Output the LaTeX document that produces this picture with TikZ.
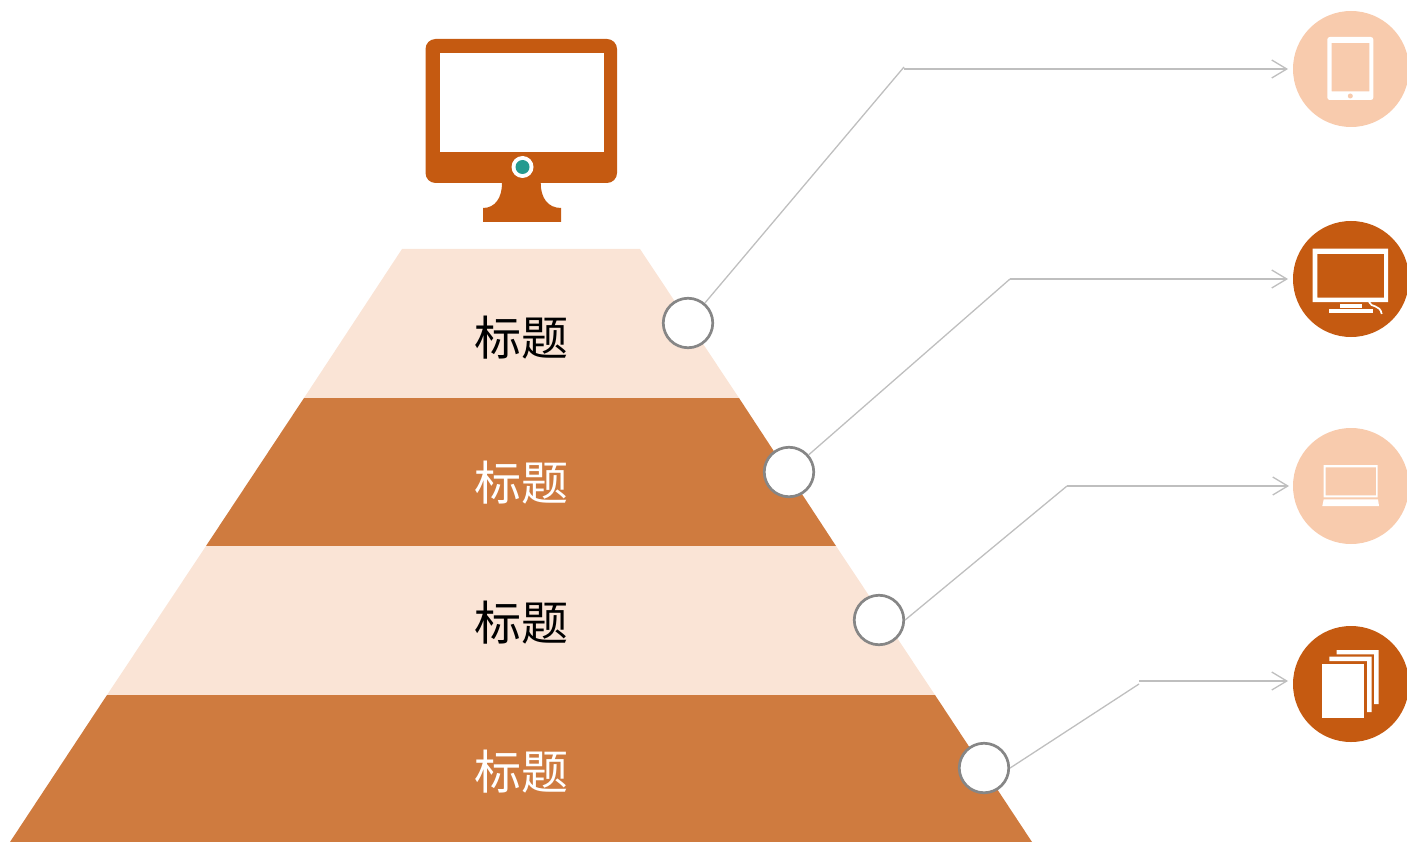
\documentclass[tikz,border=0pt]{standalone}
\usepackage{fontspec}
\newfontfamily\cjk{Noto Sans CJK SC}
\usetikzlibrary{arrows.meta}
\definecolor{burnt}{HTML}{C55A11}
\definecolor{tierdark}{HTML}{CF7B3F}
\definecolor{tierlight}{HTML}{FAE4D6}
\definecolor{iconlight}{HTML}{F8CBAD}
\definecolor{teal}{HTML}{259A8F}
\tikzset{
	tierlabel/.style = {font=\cjk\fontsize{47}{47}\selectfont, inner sep=0pt},
	ring/.style = {shape=circle, draw=gray!95, fill=white, line width=2.7pt, minimum size=49.5pt, inner sep=0pt},
	iconbadge/.style = {shape=circle, minimum size=116pt, inner sep=0pt},
	leader/.style = {draw=black!25, line width=1.3pt},
	pointer/.style = {leader, -{Straight Barb[length=15pt,width=18pt,line width=1.3pt]}}
}
\begin{document}
\begin{tikzpicture}[x=1pt, y=-1pt]
		\useasboundingbox (0,0) rectangle (1407,842);
		% pyramid
		\fill[tierlight] (402,249) -- (640,249) -- (739,398) -- (304,398) -- cycle;
		\fill[tierdark] (304,398) -- (739,398) -- (836,546) -- (206,546) -- cycle;
		\fill[tierlight] (206,546) -- (836,546) -- (935,695) -- (107,695) -- cycle;
		\fill[tierdark] (107,695) -- (935,695) -- (1032,842) -- (10,842) -- cycle;
		\node[tierlabel, text=black] (tier1) at (521,338) {标题};
		\node[tierlabel, text=white] (tier2) at (521,483) {标题};
		\node[tierlabel, text=black] (tier3) at (521,623) {标题};
		\node[tierlabel, text=white] (tier4) at (521,772) {标题};
		% monitor on top
		\fill[burnt, rounded corners=10pt] (425.5,39) rectangle (617,183);
		\fill[burnt] (502,180) -- (540.7,180) -- (540.7,183) .. controls (540.7,198) and (548,208) .. (561,208)
			-- (561,222) -- (483,222) -- (483,208) .. controls (495,208) and (502,198) .. (502,183) -- cycle;
		\fill[white] (440,53) rectangle (604,152);
		\node[shape=circle, fill=white, minimum size=22pt, inner sep=0pt] (lens) at (522.5,167) {};
		\node[shape=circle, fill=teal, minimum size=14pt, inner sep=0pt] (lensdot) at (522.5,167) {};
		% circles on the slope
		\node[ring] (ring1) at (688,323) {};
		\node[ring] (ring2) at (789,472) {};
		\node[ring] (ring3) at (879,620) {};
		\node[ring] (ring4) at (984,768) {};
		% badges
		\node[iconbadge, fill=iconlight] (tablet) at (1351,69) {};
		\node[iconbadge, fill=burnt] (screen) at (1351,279) {};
		\node[iconbadge, fill=iconlight] (laptop) at (1351,486) {};
		\node[iconbadge, fill=burnt] (pages) at (1351,684) {};
		% leaders
		\coordinate (bend1) at (904,67);
		\coordinate (start1) at (904,69);
		\coordinate (tip1) at (1288,69);
		\coordinate (bend2) at (1010,279);
		\coordinate (tip2) at (1288,279);
		\coordinate (bend3) at (1067,486);
		\coordinate (tip3) at (1289,486);
		\coordinate (bend4) at (1139,684);
		\coordinate (start4) at (1139,681);
		\coordinate (tip4) at (1288,681);
		\draw[leader] (ring1) -- (bend1);
		\draw[pointer] (start1) -- (tip1);
		\draw[leader] (ring2) -- (bend2);
		\draw[pointer] (bend2) -- (tip2);
		\draw[leader] (ring3.east) -- (bend3);
		\draw[pointer] (bend3) -- (tip3);
		\draw[leader] (ring4.east) -- (bend4);
		\draw[pointer] (start4) -- (tip4);
		% tablet glyph
		\fill[white, even odd rule, rounded corners=2.5pt] (1327.3,37) rectangle (1373.3,100)
			[sharp corners] (1331.7,43) rectangle (1369.3,91.3);
		\fill[iconlight] (1350.3,96) circle (2.5);
		% screen glyph
		\fill[white, even odd rule] (1312.7,248.7) rectangle (1388,302) (1317.3,254) rectangle (1384,297.7);
		\fill[white] (1340,304) rectangle (1362,308);
		\fill[white] (1329,309) rectangle (1373,313);
		\draw[white, line width=1.7pt] (1369,302) .. controls (1371,308) and (1380,304) .. (1381.7,314);
		% laptop glyph
		\fill[white, even odd rule] (1323.7,465) rectangle (1377.7,497.3) (1325.7,467.3) rectangle (1376,495.3);
		\fill[white] (1323.7,499.3) -- (1378,499.3) -- (1379,506) -- (1322.3,506) -- cycle;
		% pages glyph
		\fill[white] (1336.7,650) -- (1378.7,650) -- (1378.7,704) -- (1374,704) -- (1374,654.3) -- (1336.7,654.3) -- cycle;
		\fill[white] (1329.3,656.7) -- (1371.7,656.7) -- (1371.7,712) -- (1367,712) -- (1367,661) -- (1329.3,661) -- cycle;
		\fill[white] (1322.3,664) rectangle (1364.3,717.7);
\end{tikzpicture}
\end{document}
